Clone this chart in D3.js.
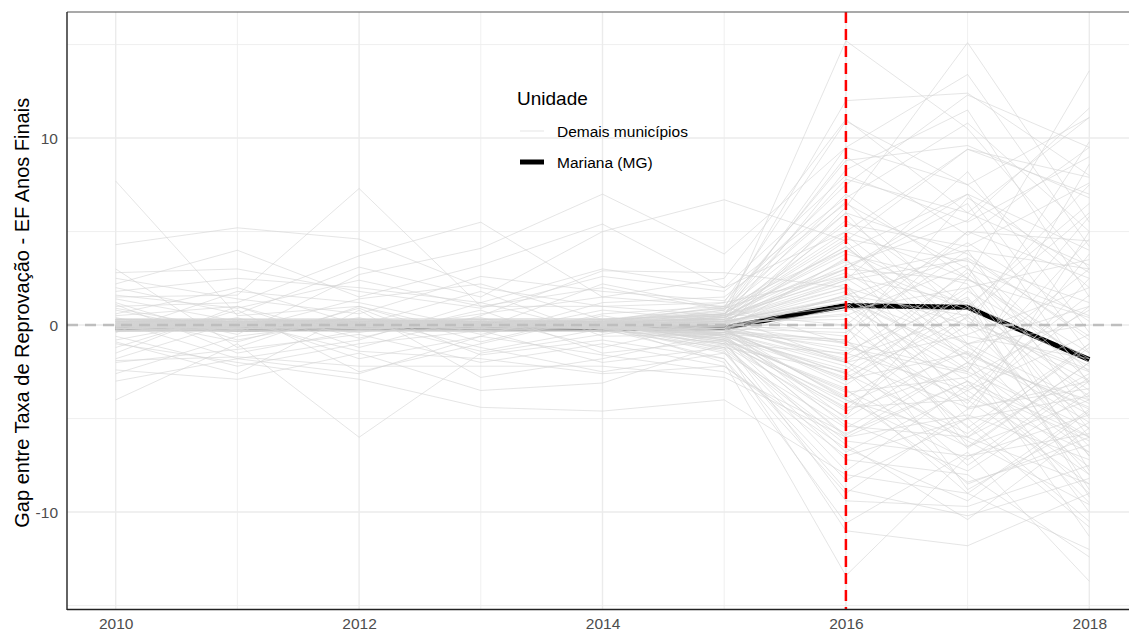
<!DOCTYPE html>
<html>
<head>
<meta charset="utf-8">
<script src="https://cdn.jsdelivr.net/npm/d3@7"></script>
<style>
  body { margin: 0; background: #fff; }
  svg { display: block; font-family: "Liberation Sans", Arial, sans-serif; }
</style>
</head>
<body>
<svg id="chart" width="1129" height="633"></svg>
<script>
const years = [2010, 2011, 2012, 2013, 2014, 2015, 2016, 2017, 2018];
const treatYear = 2016;
const xMajor = [2010, 2012, 2014, 2016, 2018];
const xMinor = [2011, 2013, 2015, 2017];
const yMajor = [-10, 0, 10];
const yMinor = [-15, -5, 5, 15];

// Mariana (MG)
const mariana = [-0.15, -0.2, -0.15, -0.15, -0.2, -0.15, 1.05, 0.95, -1.85];

// Demais municípios (placebos) com gap pré-tratamento perto de zero
const placebosNearZero = [
  [0.2, 0.1, 0.3, 0.2, 0.1, 0.4, 15.2, 10.5, 3.0],
  [-0.1, 0.2, 0.0, 0.1, 0.3, 0.9, 12.0, 12.4, 8.0],
  [0.3, 0.2, 0.1, 0.0, 0.2, 1.2, 10.9, 7.5, 11.1],
  [0.0, -0.2, 0.1, -0.1, 0.0, 0.5, 9.5, 13.4, 4.2],
  [0.1, 0.3, 0.2, 0.2, -0.1, 0.8, 9.0, 4.8, 9.5],
  [-0.2, 0.0, -0.1, 0.1, 0.2, 0.3, 8.3, 11.5, 1.5],
  [0.2, 0.2, 0.3, 0.1, 0.1, 0.6, 7.0, 2.5, 13.6],
  [0.1, -0.1, 0.0, 0.2, 0.0, -0.2, 6.3, 15.1, 5.5],
  [-0.3, -0.2, -0.1, 0.0, -0.2, 0.2, 5.6, 1.0, -3.5],
  [0.3, 0.1, 0.2, 0.3, 0.2, 0.7, 5.0, 9.4, 7.0],
  [0.0, 0.1, -0.2, -0.1, 0.1, 0.1, 4.5, -2.0, -6.0],
  [0.2, 0.0, 0.1, 0.0, -0.1, 0.4, 4.0, 7.0, -1.5],
  [-0.1, -0.2, 0.0, 0.2, 0.1, -0.3, 3.6, -4.5, 2.5],
  [0.1, 0.2, 0.3, 0.1, 0.0, 0.2, 3.2, 5.6, 11.6],
  [0.3, 0.3, 0.2, 0.2, 0.3, 0.5, 2.8, -1.0, -8.0],
  [-0.2, -0.1, -0.3, -0.2, -0.1, 0.0, 2.4, 3.5, -2.5],
  [0.0, 0.0, 0.1, 0.1, 0.2, 0.3, 2.0, -6.5, -4.0],
  [0.1, -0.1, 0.2, 0.0, -0.2, -0.4, 1.6, 0.5, 6.0],
  [-0.3, -0.1, 0.0, -0.1, 0.0, 0.1, 1.2, -3.0, -9.0],
  [0.2, 0.1, 0.0, 0.3, 0.1, -0.1, 0.8, 2.0, 3.5],
  [0.0, 0.2, 0.1, -0.1, 0.0, 0.2, 0.3, -5.5, -1.0],
  [-0.1, 0.0, -0.2, 0.0, -0.1, -0.2, -0.4, 4.0, -5.0],
  [0.1, 0.1, 0.2, 0.1, 0.2, -0.5, -0.9, -2.5, 8.6],
  [-0.2, -0.3, -0.1, -0.2, -0.3, -0.1, -1.4, 1.5, -7.0],
  [0.3, 0.2, 0.1, 0.2, 0.0, 0.0, -1.9, -7.5, -3.0],
  [0.0, -0.1, 0.0, 0.1, -0.1, -0.6, -2.4, 3.0, 0.5],
  [-0.1, 0.1, -0.1, -0.2, 0.1, -0.3, -2.9, -1.5, -10.0],
  [0.2, 0.0, 0.3, 0.0, 0.2, -0.8, -3.4, -9.0, -4.5],
  [-0.3, -0.2, -0.2, -0.3, -0.1, -0.4, -3.9, 0.0, -6.5],
  [0.1, 0.2, 0.0, 0.1, 0.0, -0.9, -4.4, -4.0, 1.0],
  [0.0, -0.1, 0.1, 0.0, 0.1, -1.1, -4.9, 2.5, -2.0],
  [-0.2, 0.0, -0.1, 0.1, -0.2, -0.2, -5.4, -6.0, -8.5],
  [0.2, 0.3, 0.2, 0.0, 0.1, -0.6, -5.9, -2.0, -11.3],
  [-0.1, -0.2, 0.0, -0.1, 0.0, -1.3, -6.4, -10.4, -5.5],
  [0.1, 0.0, 0.1, 0.2, -0.1, -0.7, -6.8, -3.5, -0.5],
  [0.0, 0.1, -0.2, 0.0, 0.2, -1.0, -7.2, -8.0, -12.4],
  [-0.3, -0.1, -0.1, -0.2, -0.1, -1.5, -8.3, -5.0, -3.8],
  [0.2, 0.1, 0.3, 0.1, 0.0, -0.8, -9.4, -9.7, -7.5],
  [0.0, -0.2, 0.0, 0.1, -0.2, -1.8, -10.6, -6.8, -13.7],
  [0.1, 0.2, 0.1, -0.1, 0.1, -1.2, -11.0, -11.8, -9.0],
  [-0.2, 0.0, -0.2, 0.0, 0.0, -2.0, -13.4, -7.0, -5.8],
  [0.1, 0.0, 0.2, 0.1, 0.1, 0.2, 3.0, 6.5, -3.2],
  [-0.1, -0.1, 0.0, 0.0, -0.1, 0.0, -1.0, 5.0, 4.5],
  [0.2, 0.1, 0.1, 0.2, 0.2, 0.1, 1.8, -3.8, -6.8],
  [0.0, 0.0, -0.1, -0.1, 0.0, -0.1, -2.0, -0.5, 2.0],
  [-0.2, -0.2, -0.1, 0.0, -0.2, -0.3, -3.0, 1.8, -1.8],
  [0.3, 0.2, 0.2, 0.3, 0.1, 0.4, 4.2, -1.2, -4.8],
  [0.1, 0.1, 0.0, 0.0, 0.1, -0.2, -4.0, -7.2, -2.8],
  [-0.1, 0.0, 0.1, -0.2, -0.1, 0.1, 0.5, 3.2, -7.8],
  [0.0, 0.2, 0.0, 0.1, 0.0, 0.3, 2.2, -5.0, 5.0],
  [0.1, 0.2, 0.1, 0.0, 0.1, 0.3, 6.0, 3.8, -0.8],
  [-0.1, 0.0, -0.1, 0.1, 0.0, -0.1, -5.0, -1.0, -4.2],
  [0.2, 0.0, 0.2, 0.1, 0.2, 0.5, 3.4, 0.8, 7.5],
  [0.0, -0.1, 0.1, 0.0, -0.1, -0.4, -2.2, -6.2, -9.6],
  [0.1, 0.1, -0.1, 0.2, 0.1, 0.2, 1.0, 4.4, 0.2],
  [-0.2, -0.1, 0.0, -0.1, -0.2, -0.5, -6.0, -4.8, -7.2],
  [0.3, 0.2, 0.3, 0.2, 0.2, 0.8, 7.8, 6.0, 3.2],
  [0.0, 0.1, 0.0, -0.1, 0.1, -0.7, -3.6, -2.8, 0.8],
  [0.1, -0.1, 0.1, 0.1, 0.0, 0.0, 0.0, -8.8, -5.2],
  [-0.1, 0.2, -0.2, 0.0, 0.1, 0.4, 2.6, 1.2, -2.2],
  [0.2, 0.1, 0.2, 0.1, -0.1, -0.3, -1.6, 2.8, -4.0],
  [0.0, 0.0, 0.0, 0.2, 0.0, 0.6, 4.8, -0.2, 9.8],
  [-0.3, -0.2, -0.2, -0.1, -0.2, -1.0, -7.8, -3.2, -6.2],
  [0.1, 0.0, 0.1, 0.0, 0.2, 0.1, -0.6, 6.8, 2.8],
  [0.2, 0.2, 0.0, 0.1, 0.0, -0.4, -2.6, -5.8, -1.2],
  [-0.1, -0.1, 0.1, -0.1, -0.1, 0.2, 1.4, -1.8, 5.8],
  [0.0, 0.1, 0.2, 0.0, 0.1, -0.9, -5.2, -7.8, -3.6],
  [0.1, 0.0, -0.1, 0.1, 0.0, 0.5, 3.8, 2.2, -5.6],
  [-0.2, 0.1, 0.0, -0.2, 0.1, -0.2, -3.2, 1.0, -8.8],
  [0.3, 0.1, 0.1, 0.2, 0.1, 1.0, 8.8, 9.6, 6.8],
  [0.0, -0.2, -0.1, 0.0, -0.1, -0.1, -0.2, -4.2, 3.8],
  [0.1, 0.2, 0.2, 0.1, 0.2, 0.3, 2.4, 8.2, -0.4],
  [-0.1, 0.0, 0.0, -0.1, 0.0, -0.8, -4.6, -2.2, -6.8],
  [0.2, 0.0, 0.1, 0.2, 0.1, 0.0, 0.6, -3.4, 1.6],
  [0.0, 0.1, -0.1, 0.0, -0.1, -1.4, -8.8, -10.2, -8.2],
  [-0.2, -0.1, 0.1, 0.1, 0.0, -0.6, -2.8, 0.4, -3.0],
  [0.1, 0.1, 0.0, -0.1, 0.1, 0.2, 1.2, -6.0, -2.6],
  [0.2, 0.2, 0.2, 0.2, 0.2, 0.6, 5.4, 4.2, 7.6],
  [-0.1, -0.2, 0.0, 0.0, -0.1, -0.3, -1.2, -2.6, -7.6],
  [0.0, 0.1, 0.1, 0.1, 0.0, -0.5, -3.8, -8.4, -6.4],
  [-0.35, -0.3, -0.35, -0.3, -0.35, -0.4, -2.0, -4.4, -3.4],
  [-0.3, -0.35, -0.3, -0.35, -0.3, -0.2, 1.6, 3.6, -0.6],
  [-0.25, -0.3, -0.25, -0.3, -0.3, -0.7, -4.2, -1.4, -5.2],
  [-0.35, -0.25, -0.3, -0.25, -0.25, 0.1, 2.0, -2.4, 4.6],
  [-0.2, -0.25, -0.2, -0.25, -0.2, -0.3, -0.8, -6.6, -2.0],
  [-0.1, -0.15, -0.1, -0.2, -0.15, -0.5, -2.6, 1.4, -9.2],
  [0.35, 0.3, 0.35, 0.3, 0.3, 0.6, 4.6, 3.4, 1.2],
  [0.3, 0.35, 0.3, 0.35, 0.35, 0.2, 1.4, -1.6, -4.4],
  [-0.05, -0.1, -0.15, -0.1, -0.1, -0.2, -1.8, 0.6, -3.8],
  [0.05, 0.0, 0.05, 0.0, 0.05, 0.4, 3.0, 2.4, 0.4],
  [-0.3, -0.3, -0.25, -0.35, -0.3, -1.2, -6.2, -7.0, -4.8],
  [0.25, 0.3, 0.25, 0.2, 0.25, 0.9, 6.6, 0.2, -2.4]
];

// Demais municípios com gap pré-tratamento mais disperso
const placebosSpread = [
  [7.7, 0.5, 1.0, -0.5, 0.8, 0.2, 3.5, -2.0, -4.0],
  [4.3, 5.2, 4.6, 2.0, 1.0, 0.5, -2.0, 2.0, -6.0],
  [2.2, 4.0, 1.5, 3.2, 5.4, 2.0, 8.0, 5.5, 9.0],
  [1.5, 1.6, 7.3, 1.0, 2.0, 0.8, 6.0, -1.0, 1.0],
  [1.0, 1.2, 3.7, 5.5, 1.5, 1.0, -1.0, -4.0, -8.5],
  [0.8, -0.5, 2.7, 4.1, 7.0, 3.8, 9.5, 7.5, 2.0],
  [2.0, 0.6, 3.1, 1.5, 5.0, 6.7, 4.5, 9.4, 7.9],
  [0.5, 1.0, -1.2, 0.5, 2.9, 2.8, 2.0, 0.0, -2.5],
  [-1.9, -1.7, -2.2, -2.2, -2.2, -2.8, -6.0, -3.0, -9.5],
  [-2.4, -2.9, -1.5, -3.5, -3.1, -1.0, -4.0, -6.0, -1.0],
  [-4.0, -1.0, -6.0, -1.5, -0.5, 0.5, 2.5, -1.5, -4.5],
  [-1.0, -2.0, -2.9, -4.4, -4.6, -4.0, -8.0, -9.0, -12.0],
  [1.2, -0.8, 0.4, -1.2, -2.5, -1.5, -5.5, -2.0, 3.0],
  [-0.8, 0.4, -1.8, -0.6, 1.2, 1.5, 6.5, 3.0, -3.0],
  [0.6, 2.0, 0.0, 1.8, -0.6, -0.5, 1.0, -2.5, -5.5],
  [3.0, -1.2, 1.0, -0.9, 0.6, 1.0, 4.0, 1.0, 6.5],
  [-1.5, 1.0, -0.7, 0.8, -1.5, -0.8, -3.5, -6.5, -2.0],
  [1.8, 2.5, 2.0, 1.2, 3.0, 2.0, 5.0, 2.5, -1.5],
  [-2.0, -1.3, -0.5, -2.0, -1.0, -2.2, -7.0, -5.0, -10.5],
  [0.9, -0.3, 1.4, 2.2, 0.3, 0.6, 0.0, 5.0, 2.5],
  [-0.6, -2.2, -1.0, -0.3, -2.0, -1.2, -2.5, -8.5, -6.0],
  [2.5, 1.4, 0.6, 2.6, 1.8, 1.3, 7.5, 12.3, 9.5],
  [-1.2, 0.8, -2.5, -1.0, 0.5, -0.6, -4.5, 0.5, -7.0],
  [0.4, -0.9, 0.9, -1.6, -0.8, -1.8, -9.0, -4.5, -3.0],
  [1.4, 0.2, -0.4, 0.6, 1.5, 2.5, 11.0, 6.0, 11.1],
  [-0.4, 1.8, 1.2, -0.2, 2.2, 0.9, 3.0, 7.0, 4.0],
  [-2.6, -0.6, 0.2, -1.4, -0.2, -1.0, -1.5, -3.5, -8.0],
  [1.1, -1.5, -0.3, 0.4, -1.2, 0.2, 1.5, -1.0, 0.0],
  [-3.0, -1.8, -2.6, -0.6, -1.6, -2.5, -5.8, -3.0, -6.0],
  [2.8, 3.0, 1.8, 0.9, 2.6, 1.8, 6.8, 10.8, 5.0],
  [-0.9, -2.6, 0.8, -2.8, -1.8, -0.4, -0.8, -5.4, -10.8],
  [1.6, 0.9, 2.4, 1.0, 1.0, 1.2, 2.6, 4.0, 3.0],
  [-1.8, 0.2, -1.4, -1.8, -2.6, -2.2, -6.6, -9.4, -4.6],
  [0.2, -1.8, -0.8, 1.2, -0.4, 0.6, 4.2, -0.6, -1.8]
];

const legendLabels = ["Demais municípios", "Mariana (MG)"];
const yTitle = "Gap entre Taxa de Reprovação - EF Anos Finais";

const svg = d3.select("#chart");
const pLeft = 67, pRight = 1138, pTop = 12, pBottom = 609.5;
const grayLine = "#d3d3d3";

const x = d3.scaleLinear().domain([2009.6, 2018.4]).range([pLeft, pRight]);
const y = d3.scaleLinear().domain([-15.21, 16.74]).range([pBottom, pTop]);

// grade
const grid = svg.append("g");
grid.selectAll(".ymin").data(yMinor).join("line")
  .attr("x1", pLeft).attr("x2", pRight)
  .attr("y1", d => y(d)).attr("y2", d => y(d))
  .attr("stroke", "#ebebeb").attr("stroke-width", 0.8);
grid.selectAll(".xmin").data(xMinor).join("line")
  .attr("x1", d => x(d)).attr("x2", d => x(d))
  .attr("y1", pTop).attr("y2", pBottom)
  .attr("stroke", "#ebebeb").attr("stroke-width", 0.8);
grid.selectAll(".ymaj").data(yMajor).join("line")
  .attr("x1", pLeft).attr("x2", pRight)
  .attr("y1", d => y(d)).attr("y2", d => y(d))
  .attr("stroke", "#ebebeb").attr("stroke-width", 1.4);
grid.selectAll(".xmaj").data(xMajor).join("line")
  .attr("x1", d => x(d)).attr("x2", d => x(d))
  .attr("y1", pTop).attr("y2", pBottom)
  .attr("stroke", "#ebebeb").attr("stroke-width", 1.4);

const line = d3.line()
  .x((d, i) => x(years[i]))
  .y(d => y(d));

// Mariana
svg.append("path")
  .datum(mariana)
  .attr("d", line)
  .attr("fill", "none")
  .attr("stroke", "#000")
  .attr("stroke-width", 5)
  .attr("stroke-linejoin", "round");

// placebos (desenhados por cima)
const placebos = placebosNearZero.concat(placebosSpread);
svg.append("g").selectAll("path")
  .data(placebos)
  .join("path")
  .attr("d", line)
  .attr("fill", "none")
  .attr("stroke", grayLine)
  .attr("stroke-width", 0.6);

// linha zero
svg.append("line")
  .attr("x1", pLeft).attr("x2", pRight)
  .attr("y1", y(0)).attr("y2", y(0))
  .attr("stroke", "#bebebe")
  .attr("stroke-width", 2.5)
  .attr("stroke-dasharray", "11,7");

// ano do tratamento
svg.append("line")
  .attr("x1", x(treatYear)).attr("x2", x(treatYear))
  .attr("y1", pTop).attr("y2", pBottom)
  .attr("stroke", "#ff0000")
  .attr("stroke-width", 2.5)
  .attr("stroke-dasharray", "11,6");

// bordas
svg.append("line").attr("x1", pLeft).attr("x2", 1129).attr("y1", pTop).attr("y2", pTop)
  .attr("stroke", "#555").attr("stroke-width", 1.2);
svg.append("line").attr("x1", pLeft).attr("x2", pLeft).attr("y1", pTop).attr("y2", pBottom + 0.6)
  .attr("stroke", "#222").attr("stroke-width", 1.4);
svg.append("line").attr("x1", pLeft).attr("x2", 1129).attr("y1", pBottom).attr("y2", pBottom)
  .attr("stroke", "#222").attr("stroke-width", 1.4);

// eixos
const yAxis = svg.append("g")
  .attr("transform", `translate(${pLeft},0)`)
  .call(d3.axisLeft(y).tickValues(yMajor).tickFormat(d => String(d)).tickSize(0).tickPadding(9));
yAxis.select(".domain").remove();
yAxis.selectAll("text").style("font-size", "15.5px").attr("fill", "#4d4d4d");

const xAxis = svg.append("g")
  .attr("transform", `translate(0,${pBottom})`)
  .call(d3.axisBottom(x).tickValues(xMajor).tickFormat(d => String(d)).tickSize(0).tickPadding(8));
xAxis.select(".domain").remove();
xAxis.selectAll("text").style("font-size", "15.5px").attr("fill", "#4d4d4d");

svg.append("text")
  .attr("transform", `translate(29,${(pTop + pBottom) / 2 + 2}) rotate(-90)`)
  .attr("text-anchor", "middle")
  .style("font-size", "20px")
  .attr("fill", "#000")
  .text(yTitle);

// legenda
const legend = svg.append("g").attr("transform", "translate(517,0)");
legend.append("text")
  .attr("x", 0).attr("y", 105)
  .style("font-size", "19px")
  .text("Unidade");
const keyY = [131, 162];
legend.selectAll(".key").data(legendLabels).join("line")
  .attr("x1", 3).attr("x2", 27)
  .attr("y1", (d, i) => keyY[i]).attr("y2", (d, i) => keyY[i])
  .attr("stroke", (d, i) => i === 0 ? grayLine : "#000")
  .attr("stroke-width", (d, i) => i === 0 ? 0.6 : 5);
legend.selectAll(".lab").data(legendLabels).join("text")
  .attr("x", 40)
  .attr("y", (d, i) => keyY[i] + 5.5)
  .style("font-size", "15.5px")
  .text(d => d);
</script>
</body>
</html>
